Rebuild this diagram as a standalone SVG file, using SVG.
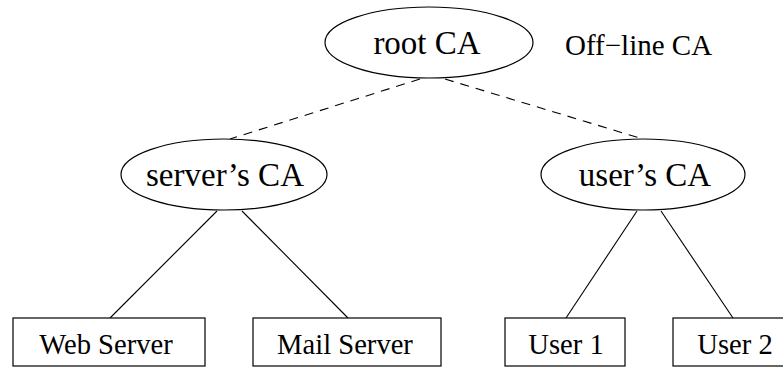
<svg xmlns="http://www.w3.org/2000/svg" width="783" height="367" viewBox="0 0 783 367">
  <style>
    .shape { fill: #ffffff; stroke: #000000; stroke-width: 1.2; }
    .edge { stroke: #000000; stroke-width: 1.1; fill: none; }
    .dashed { stroke-dasharray: 9 7; }
    .big { font-family: "Liberation Serif", "Times New Roman", serif; font-size: 33px; fill: #000000; text-anchor: middle; }
    .note { font-family: "Liberation Serif", "Times New Roman", serif; font-size: 29px; fill: #000000; }
    .small { font-family: "Liberation Serif", "Times New Roman", serif; font-size: 28.6px; fill: #000000; text-anchor: middle; }
  </style>
  <rect width="783" height="367" fill="#ffffff"/>

  <!-- connectors -->
  <g id="connectors">
    <line class="edge dashed" x1="420" y1="79" x2="230" y2="139"/>
    <line class="edge dashed" x1="445" y1="79" x2="643" y2="139"/>
    <line class="edge" x1="217" y1="211" x2="110" y2="318"/>
    <line class="edge" x1="242" y1="211" x2="348" y2="318"/>
    <line class="edge" x1="637" y1="211" x2="566" y2="318"/>
    <line class="edge" x1="661" y1="211" x2="733" y2="318"/>
  </g>

  <!-- certificate authorities -->
  <g id="root-ca">
    <ellipse class="shape" cx="429" cy="42.5" rx="104" ry="35.5"/>
    <text class="big" x="427" y="54">root CA</text>
  </g>
  <g id="offline-label">
    <text class="note" x="565" y="55">Off−line CA</text>
  </g>
  <g id="server-ca">
    <ellipse class="shape" cx="224" cy="174.5" rx="103" ry="35.5"/>
    <text class="big" x="225" y="186">server’s CA</text>
  </g>
  <g id="user-ca">
    <ellipse class="shape" cx="643" cy="174.5" rx="102" ry="35.5"/>
    <text class="big" x="645" y="186">user’s CA</text>
  </g>

  <!-- end entities -->
  <g id="web-server">
    <rect class="shape" x="13" y="318" width="192" height="48"/>
    <text class="small" x="106" y="354">Web Server</text>
  </g>
  <g id="mail-server">
    <rect class="shape" x="253" y="318" width="188" height="48"/>
    <text class="small" x="345" y="354">Mail Server</text>
  </g>
  <g id="user-1">
    <rect class="shape" x="505" y="318" width="120" height="48"/>
    <text class="small" x="566" y="354">User 1</text>
  </g>
  <g id="user-2">
    <rect class="shape" x="673" y="318" width="124" height="48"/>
    <text class="small" x="735" y="354">User 2</text>
  </g>
</svg>
